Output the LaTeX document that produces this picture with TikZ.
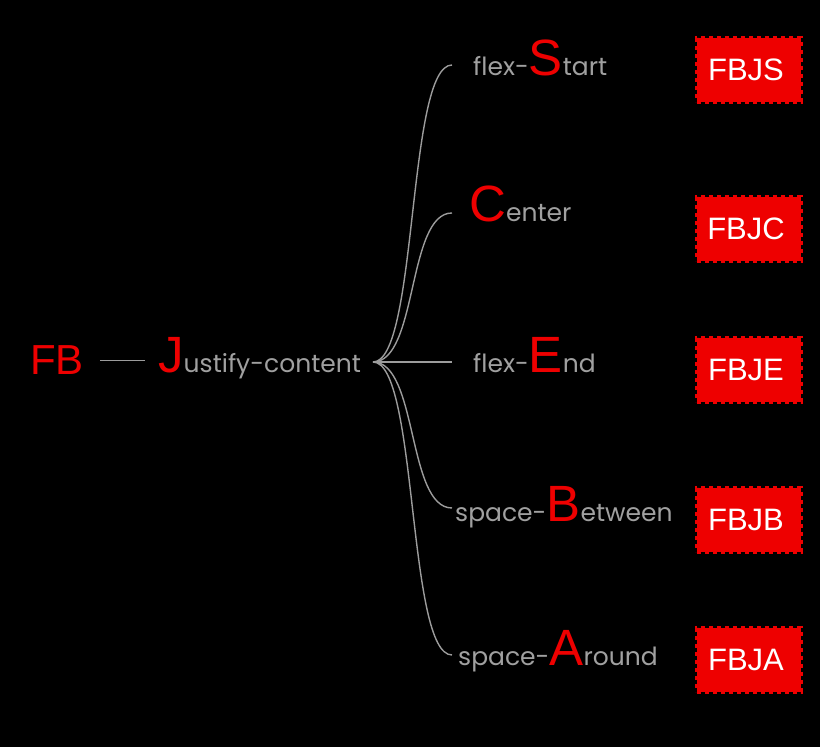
\documentclass[tikz,border=0pt]{standalone}
\usepackage{fontspec}
\setmainfont{Poppins}
\newfontfamily\arialfont{Liberation Sans}
\usetikzlibrary{positioning}
\definecolor{fbred}{HTML}{EE0000}
\definecolor{fbgrey}{HTML}{A0A0A0}
\definecolor{fbline}{HTML}{9C9C9C}
% big red initial letter
\newcommand{\redini}[1]{{\arialfont\fontsize{51}{51}\selectfont\color{fbred}#1}}

\begin{document}
\begin{tikzpicture}[x=1pt,y=1pt,
   prop/.style={anchor=base west,inner sep=0pt,text=fbgrey,font=\fontsize{25}{25}\selectfont},
   fbbox/.style={fill=fbred,draw=fbred,line width=4pt,dash pattern=on 4pt off 4pt,
     minimum width=104pt,minimum height=64pt,inner sep=0pt,text=white,
     font=\arialfont\fontsize{31}{31}\selectfont},
   link/.style={draw=fbline,line width=1.4pt}]
 \fill[black] (0,0) rectangle (820,747);
 \useasboundingbox (0,0) rectangle (820,747);
 % root and property
 \node[anchor=base west,inner sep=0pt,text=fbred,font=\arialfont\fontsize{42}{42}\selectfont] (fb) at (30,372) {FB};
 \node[prop] (jc) at (158,374) {\redini{J}ustify-content};
 \coordinate (hub) at (373,385);
 % values
 \node[prop] (vs) at (473,671) {flex-\redini{S}tart};
 \node[prop] (vc) at (469,525) {\redini{C}enter};
 \node[prop] (ve) at (473,374) {flex-\redini{E}nd};
 \node[prop] (vb) at (455,225) {space-\redini{B}etween};
 \node[prop] (va) at (458,81) {space-\redini{A}round};
 \coordinate (es) at (452,682);
 \coordinate (ec) at (452,534);
 \coordinate (ee) at (452,385);
 \coordinate (eb) at (452,239);
 \coordinate (ea) at (452,92);
 % class boxes
 \node[fbbox] (bs) at (749,677) {FBJS\hspace*{6pt}};
 \node[fbbox] (bc) at (749,518) {FBJC\hspace*{6pt}};
 \node[fbbox] (be) at (749,377) {FBJE\hspace*{6pt}};
 \node[fbbox] (bb) at (749,227) {FBJB\hspace*{6pt}};
 \node[fbbox] (ba) at (749,87) {FBJA\hspace*{6pt}};
 % connectors
 \draw[link,shorten <=16pt,shorten >=13pt] (fb.east) -- (fb.east -| jc.west);
 \draw[link] (hub) .. controls +(45,0) and +(-45,0) .. (es);
 \draw[link] (hub) .. controls +(45,0) and +(-45,0) .. (ec);
 \draw[link] (hub) -- (ee);
 \draw[link] (hub) .. controls +(45,0) and +(-45,0) .. (eb);
 \draw[link] (hub) .. controls +(45,0) and +(-45,0) .. (ea);
\end{tikzpicture}
\end{document}
